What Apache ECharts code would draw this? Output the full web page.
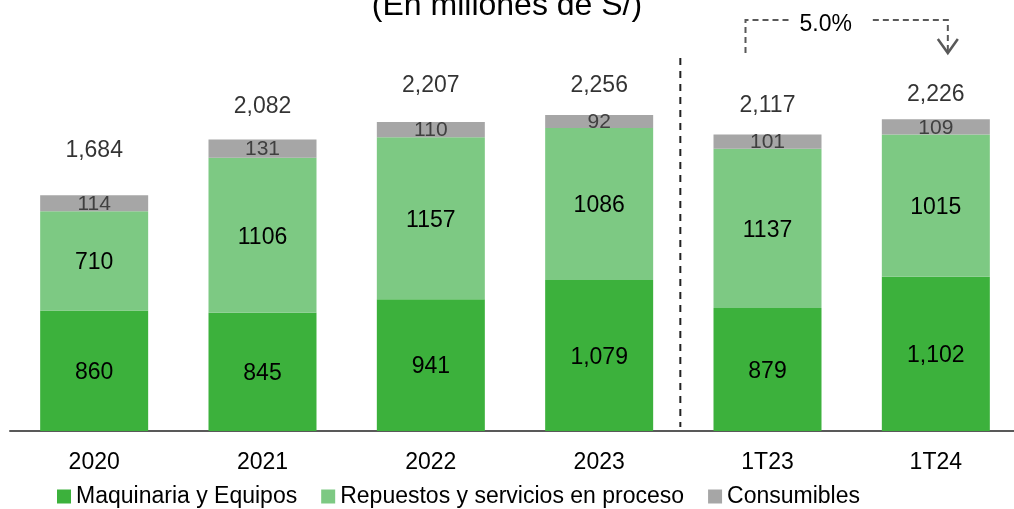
<!DOCTYPE html>
<html>
<head>
<meta charset="utf-8">
<script src="https://cdn.jsdelivr.net/npm/echarts@6/dist/echarts.min.js"></script>
<style>
  html, body { margin: 0; padding: 0; background: #fff; }
  #chart { width: 1014px; height: 509px; }
</style>
</head>
<body>
<div id="chart"></div>
<script>
// datos (millones de S/)
var categorias = ['2020', '2021', '2022', '2023', '1T23', '1T24'];
var maquinaria = [860, 845, 941, 1079, 879, 1102];
var repuestos = [710, 1106, 1157, 1086, 1137, 1015];
var consumibles = [114, 131, 110, 92, 101, 109];
var totales = [1684, 2082, 2207, 2256, 2117, 2226];
var variacion = '5.0%';
// separacion de la etiqueta de total sobre la barra (px)
var subeTotal = [33, 21, 25, 18, 17, 13];

var FONT = 'Liberation Sans, Arial, sans-serif';
var myChart = echarts.init(document.getElementById('chart'));

var fmt = function (v) { return Number(v).toLocaleString('en-US'); };

myChart.setOption({
  animation: false,
  textStyle: { fontFamily: FONT },
  grid: { left: 10, top: 11, width: 1010, height: 420, outerBoundsMode: 'none' },
  legend: {
    left: 57, top: 485, padding: 0,
    itemWidth: 14, itemHeight: 14, itemGap: 24,
    icon: 'rect',
    textStyle: { fontSize: 23, color: '#000', fontFamily: FONT },
    data: ['Maquinaria y Equipos', 'Repuestos y servicios en proceso', 'Consumibles']
  },
  xAxis: {
    type: 'category',
    data: categorias,
    axisTick: { show: false },
    axisLine: { lineStyle: { color: '#595959', width: 2 } },
    axisLabel: { color: '#000', fontSize: 23, margin: 20, fontFamily: FONT }
  },
  yAxis: {
    type: 'value', min: 0, max: 3000,
    show: false,
    splitLine: { show: false }
  },
  series: [
    {
      name: 'Maquinaria y Equipos', type: 'bar', stack: 'total', barWidth: 108,
      data: maquinaria,
      itemStyle: { color: '#3CB13C' },
      label: { show: true, position: 'inside', color: '#000', fontSize: 23, fontFamily: FONT,
        offset: [0, 2],
        formatter: function (p) { return fmt(p.value); } }
    },
    {
      name: 'Repuestos y servicios en proceso', type: 'bar', stack: 'total', barWidth: 108,
      data: repuestos,
      itemStyle: { color: '#7DC983' },
      label: { show: true, position: 'inside', color: '#000', fontSize: 23, fontFamily: FONT,
        offset: [0, 2] }
    },
    {
      name: 'Consumibles', type: 'bar', stack: 'total', barWidth: 108,
      data: consumibles,
      itemStyle: { color: '#A6A6A6' },
      label: { show: true, position: 'inside', color: '#404040', fontSize: 21, fontFamily: FONT,
        offset: [0, 1] }
    },
    {
      name: 'Total', type: 'scatter', symbolSize: 0, silent: true,
      data: totales.map(function (v, i) {
        return { value: v, label: { distance: subeTotal[i] } };
      }),
      label: { show: true, position: 'top', color: '#000', fontSize: 23, fontFamily: FONT,
        formatter: function (p) { return fmt(p.value); } }
    }
  ]
});

// anotaciones: divisor punteado y flecha de variacion
var px = function (i, v) { return myChart.convertToPixel({ xAxisIndex: 0, yAxisIndex: 0 }, [i, v]); };
var c3 = px(3, 0), c4 = px(4, 0), c5 = px(5, 0);
var xDiv = (c3[0] + c4[0]) / 2 - 3;
var xa = c4[0] - 22, xb = c5[0] + 12;
var yTop = 20, yBot = 53;
var gris = '#595959';
myChart.setOption({
  graphic: [
    { type: 'text', left: 'center', top: -10,
      style: { text: '(En millones de S/)', font: '32px ' + FONT, fill: '#000', x: 7 } },
    { type: 'line', shape: { x1: xDiv, y1: 58, x2: xDiv, y2: c3[1] - 4 },
      style: { stroke: '#222', lineWidth: 2, lineDash: [7, 6] } },
    { type: 'polyline', shape: { points: [[xa, yBot], [xa, yTop], [xa + 46, yTop]] },
      style: { stroke: gris, lineWidth: 2, lineDash: [6, 4], fill: null } },
    { type: 'polyline', shape: { points: [[xb - 75, yTop], [xb, yTop], [xb, yBot - 2]] },
      style: { stroke: gris, lineWidth: 2, lineDash: [6, 4], fill: null } },
    { type: 'polyline', shape: { points: [[xb - 10, yBot - 14], [xb, yBot], [xb + 10, yBot - 14]] },
      style: { stroke: gris, lineWidth: 2.5, fill: null } },
    { type: 'text', x: (xa + xb) / 2 - 21, y: yTop + 5,
      style: { text: variacion, font: '23px ' + FONT, fill: '#000', align: 'center', verticalAlign: 'middle' } }
  ]
});

window.onresize = function () { myChart.resize(); };
</script>
</body>
</html>
